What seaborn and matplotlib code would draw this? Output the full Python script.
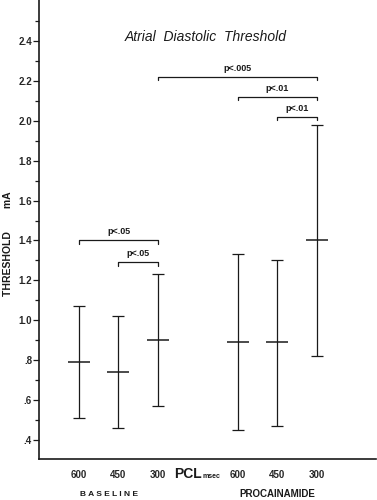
import matplotlib
matplotlib.use("Agg")
import matplotlib.pyplot as plt
import matplotlib.transforms as mtransforms
import numpy as np
import seaborn as sns

# data (threshold in mA)
groups = ["BASELINE", "PROCAINAMIDE"]
pcl_labels = ["600", "450", "300", "600", "450", "300"]
positions = [0, 1, 2, 4, 5, 6]
means = [0.79, 0.74, 0.90, 0.89, 0.89, 1.40]
upper = [1.07, 1.02, 1.23, 1.33, 1.30, 1.98]
lower = [0.51, 0.46, 0.57, 0.45, 0.47, 0.82]

# significance brackets: (from index, to index, height, label)
brackets = [
    (0, 2, 1.40, "p<.05"),
    (1, 2, 1.29, "p<.05"),
    (2, 5, 2.22, "p<.005"),
    (3, 5, 2.12, "p<.01"),
    (4, 5, 2.02, "p<.01"),
]

sns.set_style("ticks")
plt.rcParams["font.family"] = ["Liberation Sans", "DejaVu Sans"]

fig = plt.figure(figsize=(3.77, 5.0), dpi=100)
ax = fig.add_axes([0.1034, 0.082, 0.894, 0.918])

col = "#1a1a1a"
yerr = [np.array(means) - np.array(lower), np.array(upper) - np.array(means)]
ax.errorbar(positions, means, yerr=yerr, fmt="none", ecolor=col,
            elinewidth=0.9, capsize=4.5, capthick=0.9)
sns.scatterplot(x=positions, y=means, marker="_", s=230, color=col,
                linewidth=1.1, ax=ax, legend=False)

for i, j, h, lab in brackets:
    x1, x2 = positions[i], positions[j]
    ax.plot([x1, x1, x2, x2], [h - 0.017, h, h, h - 0.017], color=col, lw=0.9)
    ax.text((x1 + x2) / 2, h + 0.02, lab, ha="center", va="bottom",
            fontsize=6.5, fontweight="bold", color=col)

ax.set_xlim(-1.0, 7.48)
ax.set_ylim(0.305, 2.605)

yt = [0.4, 0.6, 0.8, 1.0, 1.2, 1.4, 1.6, 1.8, 2.0, 2.2, 2.4]
ax.set_yticks(yt)
ax.set_yticklabels([".4", ".6", ".8", "1.0", "1.2", "1.4", "1.6", "1.8",
                    "2.0", "2.2", "2.4"], fontsize=7, fontweight="bold")
ax.set_yticks([0.5, 0.7, 0.9, 1.1, 1.3, 1.5, 1.7, 1.9, 2.1, 2.3, 2.5], minor=True)
ax.tick_params(axis="y", which="major", length=4, width=0.9, pad=1, color=col)
ax.tick_params(axis="y", which="minor", length=3, width=0.9, color=col)

ax.set_xticks(positions)
ax.set_xticklabels(pcl_labels, fontsize=7, fontweight="bold")
ax.tick_params(axis="x", length=0, pad=8)

sns.despine(ax=ax)
for s in ["left", "bottom"]:
    ax.spines[s].set_linewidth(1.2)
    ax.spines[s].set_color(col)

ax.text(3.2, 2.42, "Atrial  Diastolic  Threshold", ha="center", va="center",
        fontsize=10, style="italic", color=col)

trans = mtransforms.blended_transform_factory(ax.transData, ax.transAxes)
ax.text(2.40, -0.033, "PCL", ha="left", va="center", fontsize=10,
        fontweight="bold", color=col, transform=trans)
ax.text(3.12, -0.038, "msec", ha="left", va="center", fontsize=5,
        fontweight="bold", color=col, transform=trans)
ax.text(0.76, -0.077, "B A S E L I N E", ha="center", va="center", fontsize=6,
        fontweight="bold", color=col, transform=trans)
ax.text(5, -0.077, "PROCAINAMIDE", ha="center", va="center", fontsize=7,
        fontweight="bold", color=col, transform=trans)

fig.text(0.02, 0.512, "THRESHOLD        mA", rotation=90, ha="center",
         va="center", fontsize=7.5, fontweight="bold", color=col)

fig.savefig("out.png", dpi=100)
